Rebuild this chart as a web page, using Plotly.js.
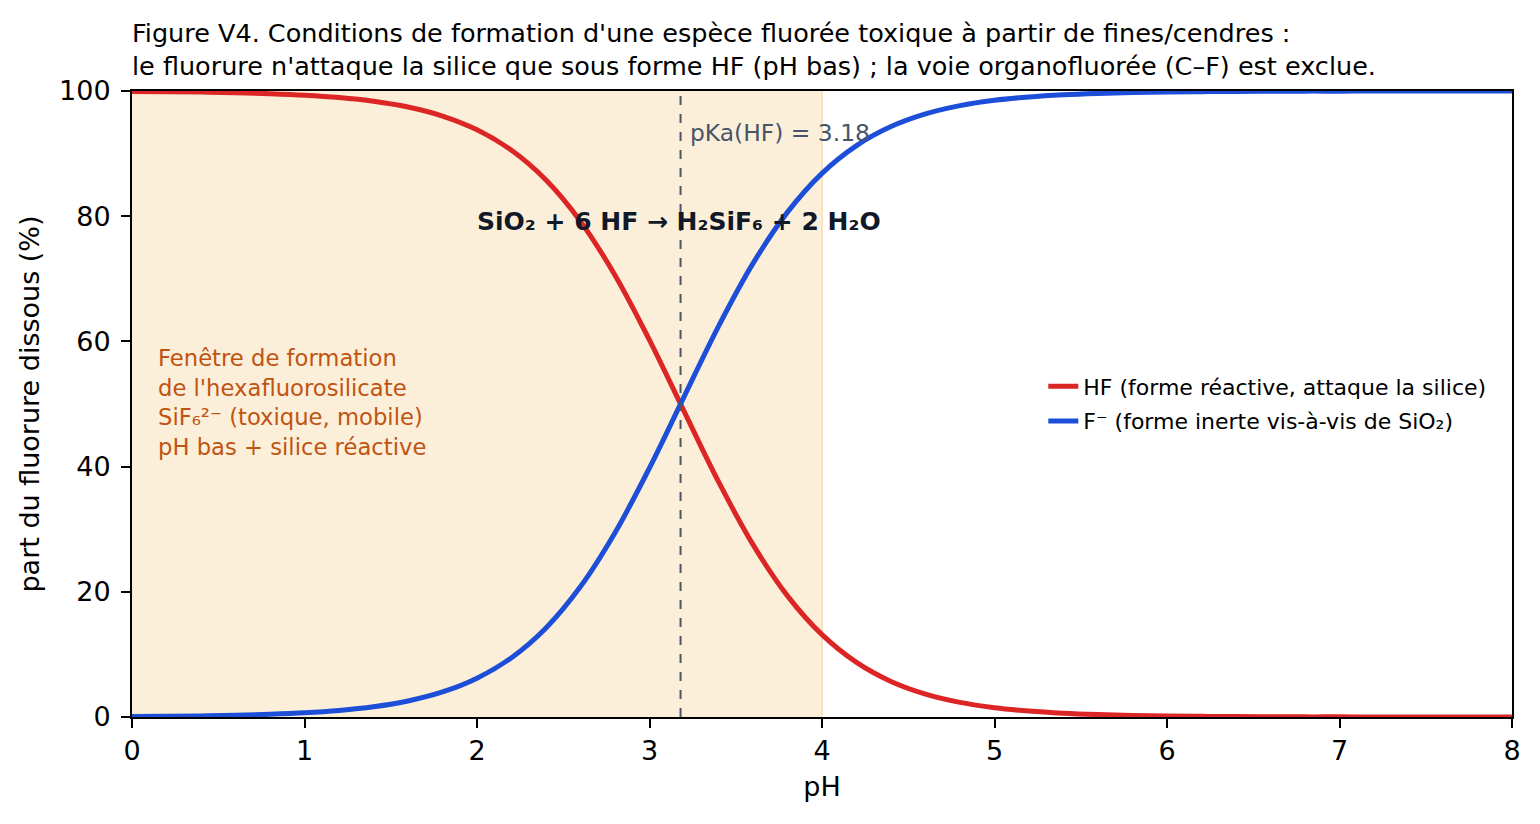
<!DOCTYPE html>
<html>
<head>
<meta charset="utf-8">
<script src="https://cdn.plot.ly/plotly-3.0.1.min.js"></script>
<style>
  html, body { margin: 0; padding: 0; background: #fff; }
  #chart { width: 1540px; height: 824px; }
</style>
</head>
<body>
<div id="chart"></div>
<script>
// pH (x) et part du fluorure dissous (%)
const ph = [0.0, 0.2, 0.4, 0.6, 0.8, 1.0, 1.2, 1.4, 1.6, 1.8, 2.0, 2.2, 2.4, 2.6, 2.8,
  3.0, 3.2, 3.4, 3.6, 3.8, 4.0, 4.2, 4.4, 4.6, 4.8, 5.0, 5.2, 5.4, 5.6, 5.8, 6.0,
  6.2, 6.4, 6.6, 6.8, 7.0, 7.2, 7.4, 7.6, 7.8, 8.0];
const partHF = [99.93, 99.90, 99.83, 99.74, 99.58, 99.34, 98.96, 98.37, 97.44, 96.00,
  93.80, 90.52, 85.77, 79.17, 70.57, 60.20, 48.85, 37.59, 27.54, 19.35, 13.15, 8.72,
  5.68, 3.66, 2.34, 1.49, 0.95, 0.60, 0.38, 0.24, 0.15, 0.10, 0.06, 0.04, 0.02, 0.02,
  0.01, 0.01, 0.00, 0.00, 0.00];
const partF = [0.07, 0.10, 0.17, 0.26, 0.42, 0.66, 1.04, 1.63, 2.56, 4.00, 6.20, 9.48,
  14.23, 20.83, 29.43, 39.80, 51.15, 62.41, 72.46, 80.65, 86.85, 91.28, 94.32, 96.34,
  97.66, 98.51, 99.05, 99.40, 99.62, 99.76, 99.85, 99.90, 99.94, 99.96, 99.98, 99.98,
  99.99, 99.99, 100.00, 100.00, 100.00];

const nomsSeries = ["HF (forme réactive, attaque la silice)", "F⁻ (forme inerte vis-à-vis de SiO₂)"];
const pKa = 3.18;
const fenetre = [0, 4];
const xTicks = [0, 1, 2, 3, 4, 5, 6, 7, 8];
const yTicks = [0, 20, 40, 60, 80, 100];

const police = "DejaVu Sans, sans-serif";

const traces = [
  {
    x: ph, y: partHF, name: nomsSeries[0], legendgroup: "hf",
    type: "scatter", mode: "lines",
    line: { color: "#dc2626", width: 5, shape: "spline" },
    hoverinfo: "none",
  },
  {
    x: ph, y: partF, name: nomsSeries[1], legendgroup: "f",
    type: "scatter", mode: "lines",
    line: { color: "#1d4ed8", width: 5, shape: "spline" },
    hoverinfo: "none",
  },
];

const layout = {
  width: 1540,
  height: 824,
  paper_bgcolor: "#fff",
  plot_bgcolor: "#fff",
  font: { family: police, color: "#000", size: 22 },
  margin: { l: 132, r: 28, t: 91, b: 107 },
  title: {
    text: "Figure V4. Conditions de formation d'une espèce fluorée toxique à partir de fines/cendres :<br>le fluorure n'attaque la silice que sous forme HF (pH bas) ; la voie organofluorée (C–F) est exclue.",
    font: { family: police, size: 25.5, color: "#000" },
    xref: "paper", x: 0, xanchor: "left",
    yref: "container", y: 1 - 42 / 824, yanchor: "top",
  },
  xaxis: {
    range: [0, 8],
    tickvals: xTicks,
    ticks: "outside", ticklen: 9, tickwidth: 2, tickcolor: "#000",
    tickfont: { size: 27 },
    showline: true, linecolor: "#000", linewidth: 2, mirror: true,
    showgrid: false, zeroline: false,
    title: { text: "pH", font: { size: 27 }, standoff: 12 },
  },
  yaxis: {
    range: [0, 100],
    tickvals: yTicks,
    ticks: "outside", ticklen: 9, tickwidth: 2, tickcolor: "#000",
    tickfont: { size: 27 },
    ticklabelstandoff: 5,
    showline: true, linecolor: "#000", linewidth: 2, mirror: true,
    showgrid: false, zeroline: false,
    title: { text: "part du fluorure dissous (%)", font: { size: 27 }, standoff: 12 },
  },
  shapes: [
    {
      type: "rect", xref: "x", yref: "paper",
      x0: fenetre[0], x1: fenetre[1], y0: 0, y1: 1,
      fillcolor: "#fcefd9", line: { width: 0 }, layer: "below",
    },
    {
      type: "line", xref: "x", yref: "paper",
      x0: fenetre[1], x1: fenetre[1], y0: 0, y1: 1,
      line: { color: "#f8e2bf", width: 2 }, layer: "below",
    },
    {
      type: "line", xref: "x", yref: "paper",
      x0: pKa, x1: pKa, y0: 0, y1: 1,
      line: { color: "#4b5563", width: 2, dash: "dash" },
    },
  ],
  annotations: [
    {
      x: pKa + 0.045, y: 93.3, xref: "x", yref: "y",
      text: "pKa(HF) = " + pKa.toFixed(2),
      xanchor: "left", yanchor: "middle", showarrow: false,
      font: { size: 23.4, color: "#475569" },
    },
    {
      x: pKa - 0.01, y: 79.2, xref: "x", yref: "y",
      text: "<b>SiO₂ + 6 HF → H₂SiF₆ + 2 H₂O</b>",
      xanchor: "center", yanchor: "middle", showarrow: false,
      font: { size: 25, color: "#111827" },
    },
    {
      x: 0.14, y: 50.3, xref: "x", yref: "y",
      text: "Fenêtre de formation<br>de l'hexafluorosilicate<br>SiF₆²⁻ (toxique, mobile)<br>pH bas + silice réactive",
      xanchor: "left", yanchor: "middle", align: "left", showarrow: false,
      font: { size: 22.7, color: "#c05412" },
    },
  ],
  legend: {
    x: 0.985, xanchor: "right",
    y: 0.5, yanchor: "middle",
    bgcolor: "rgba(255,255,255,0)",
    borderwidth: 0,
    font: { size: 22, color: "#000" },
    tracegroupgap: 3,
  },
  showlegend: true,
};

Plotly.newPlot("chart", traces, layout, { displayModeBar: false, staticPlot: true });
</script>
</body>
</html>
